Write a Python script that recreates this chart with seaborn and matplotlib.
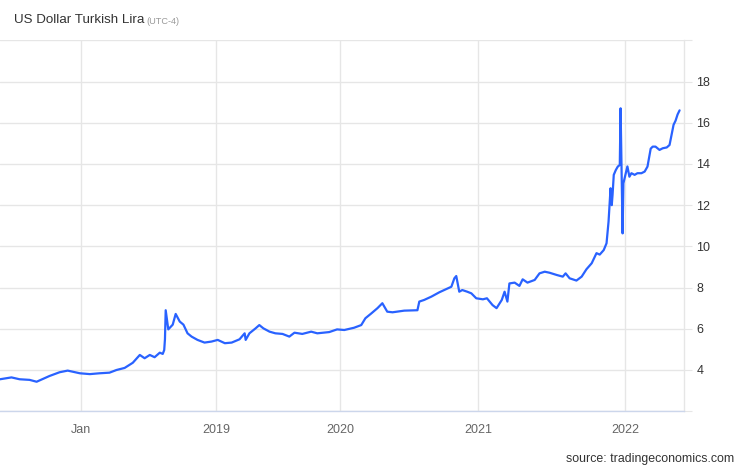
import numpy as np
import pandas as pd
import matplotlib
matplotlib.use("Agg")
import matplotlib.pyplot as plt
import matplotlib.dates as mdates
import seaborn as sns

# ---- data ----
dates = [
    "2017-05-27", "2017-06-27", "2017-07-19", "2017-08-15", "2017-09-03", "2017-10-08",
    "2017-11-04", "2017-11-26", "2017-12-29", "2018-01-25", "2018-02-20", "2018-03-19",
    "2018-04-07", "2018-04-29", "2018-05-21", "2018-06-09", "2018-06-22", "2018-07-06",
    "2018-07-19", "2018-08-02", "2018-08-10", "2018-08-14", "2018-08-16", "2018-08-18",
    "2018-08-25", "2018-09-06", "2018-09-14", "2018-09-25", "2018-10-05", "2018-10-16",
    "2018-10-27", "2018-11-12", "2018-12-01", "2018-12-20", "2019-01-06", "2019-01-27",
    "2019-02-16", "2019-03-11", "2019-03-26", "2019-03-29", "2019-04-09", "2019-04-27",
    "2019-05-08", "2019-05-20", "2019-06-07", "2019-06-24", "2019-07-15", "2019-08-04",
    "2019-08-19", "2019-09-11", "2019-10-07", "2019-10-25", "2019-11-29", "2019-12-22",
    "2020-01-11", "2020-02-06", "2020-02-25", "2020-03-07", "2020-03-23", "2020-04-08",
    "2020-04-21", "2020-05-04", "2020-05-18", "2020-06-18", "2020-07-23", "2020-07-28",
    "2020-08-10", "2020-08-29", "2020-09-19", "2020-10-07", "2020-10-21", "2020-10-29",
    "2020-11-03", "2020-11-11", "2020-11-19", "2020-12-02", "2020-12-13", "2020-12-26",
    "2021-01-12", "2021-01-22", "2021-02-05", "2021-02-15", "2021-02-28", "2021-03-07",
    "2021-03-14", "2021-03-19", "2021-04-01", "2021-04-13", "2021-04-21", "2021-05-03",
    "2021-05-21", "2021-06-02", "2021-06-15", "2021-06-27", "2021-07-15", "2021-07-30",
    "2021-08-06", "2021-08-16", "2021-09-02", "2021-09-15", "2021-09-27", "2021-10-10",
    "2021-10-22", "2021-10-30", "2021-11-09", "2021-11-16", "2021-11-21", "2021-11-26",
    "2021-11-29", "2021-12-01", "2021-12-04", "2021-12-09", "2021-12-14", "2021-12-19",
    "2021-12-21", "2021-12-26", "2021-12-28", "2022-01-02", "2022-01-07", "2022-01-12",
    "2022-01-17", "2022-01-25", "2022-02-01", "2022-02-11", "2022-02-19", "2022-02-26",
    "2022-03-06", "2022-03-11", "2022-03-18", "2022-03-28", "2022-04-05", "2022-04-15",
    "2022-04-22", "2022-04-27", "2022-05-02", "2022-05-07", "2022-05-12", "2022-05-17",
]
rates = [
    3.55, 3.64, 3.55, 3.52, 3.43, 3.71,
    3.89, 3.97, 3.84, 3.80, 3.84, 3.87,
    4.00, 4.10, 4.35, 4.73, 4.57, 4.73,
    4.62, 4.84, 4.78, 4.97, 5.50, 6.90,
    5.97, 6.20, 6.72, 6.35, 6.20, 5.78,
    5.62, 5.46, 5.33, 5.38, 5.46, 5.30,
    5.33, 5.49, 5.78, 5.46, 5.78, 6.02,
    6.18, 6.02, 5.86, 5.78, 5.75, 5.62,
    5.81, 5.75, 5.86, 5.78, 5.84, 5.97,
    5.94, 6.05, 6.18, 6.51, 6.75, 7.00,
    7.24, 6.83, 6.80, 6.88, 6.90, 7.32,
    7.40, 7.56, 7.77, 7.92, 8.04, 8.45,
    8.56, 7.80, 7.88, 7.80, 7.72, 7.48,
    7.43, 7.48, 7.15, 7.00, 7.40, 7.80,
    7.32, 8.20, 8.24, 8.08, 8.40, 8.24,
    8.37, 8.69, 8.77, 8.72, 8.61, 8.53,
    8.69, 8.45, 8.34, 8.53, 8.89, 9.18,
    9.67, 9.60, 9.82, 10.15, 11.20, 12.82,
    12.00, 12.50, 13.47, 13.70, 13.87, 13.95,
    16.70, 10.63, 13.06, 13.47, 13.88, 13.38,
    13.55, 13.47, 13.55, 13.55, 13.63, 13.87,
    14.74, 14.84, 14.84, 14.68, 14.76, 14.80,
    14.92, 15.40, 15.90, 16.10, 16.40, 16.60,
]
year_ticks = ["2018-01-01", "2019-01-01", "2020-01-01", "2021-01-01", "2022-01-01"]
year_labels = ["Jan", "2019", "2020", "2021", "2022"]
y_ticks = [2, 4, 6, 8, 10, 12, 14, 16, 18, 20]
y_labels = ["", "4", "6", "8", "10", "12", "14", "16", "18", ""]

df = pd.DataFrame({"date": pd.to_datetime(dates), "rate": rates})

sns.set_theme(style="white")
plt.rcParams["font.family"] = ["Liberation Sans", "DejaVu Sans"]

W, H = 746, 468
fig = plt.figure(figsize=(W / 100, H / 100), dpi=100)
fig.patch.set_facecolor("white")
ax = fig.add_axes([0, (H - 411.2) / H, 684 / W, (411.2 - 40.3) / H])

sns.lineplot(data=df, x="date", y="rate", ax=ax, color="#2962ff", linewidth=1.6)

# non-uniform time axis (as in the original, year spans differ in width)
anchor_d = mdates.date2num(pd.to_datetime(year_ticks))
anchor_p = np.array([81.0, 216.0, 340.5, 478.5, 625.0])
s0 = (anchor_p[1] - anchor_p[0]) / (anchor_d[1] - anchor_d[0])
s1 = (anchor_p[-1] - anchor_p[-2]) / (anchor_d[-1] - anchor_d[-2])


def fwd(x):
    x = np.asarray(x, dtype=float)
    y = np.interp(x, anchor_d, anchor_p)
    y = np.where(x < anchor_d[0], anchor_p[0] + (x - anchor_d[0]) * s0, y)
    y = np.where(x > anchor_d[-1], anchor_p[-1] + (x - anchor_d[-1]) * s1, y)
    return y


def inv(p):
    p = np.asarray(p, dtype=float)
    x = np.interp(p, anchor_p, anchor_d)
    x = np.where(p < anchor_p[0], anchor_d[0] + (p - anchor_p[0]) / s0, x)
    x = np.where(p > anchor_p[-1], anchor_d[-1] + (p - anchor_p[-1]) / s1, x)
    return x


ax.set_xscale("function", functions=(fwd, inv))
ax.set_xlim(float(inv(0.0)), float(inv(684.0)))
ax.set_xticks(anchor_d)
ax.set_xticklabels(year_labels)
ax.xaxis.set_minor_locator(matplotlib.ticker.NullLocator())

ax.set_ylim(2, 20)
ax.set_yticks(y_ticks)
ax.set_yticklabels(y_labels)
ax.yaxis.tick_right()

ax.set_xlabel("")
ax.set_ylabel("")
ax.grid(True, color="#e6e6e6", linewidth=1)
ax.set_axisbelow(True)

for s in ["top", "left"]:
    ax.spines[s].set_visible(False)
ax.spines["right"].set_color("#e6e6e6")
ax.spines["right"].set_linewidth(1)
ax.spines["bottom"].set_color("#ccd6eb")
ax.spines["bottom"].set_linewidth(1)

ax.tick_params(axis="y", which="major", right=True, left=False, length=5.8,
               width=0.8, color="#e6e6e6", labelcolor="#333333", labelsize=9, pad=3)
ax.tick_params(axis="x", which="major", bottom=True, length=0, labelcolor="#666666",
               labelsize=9, pad=9)

fig.text(14 / W, 1 - 20 / H, "US Dollar Turkish Lira", fontsize=9.6,
         color="#333333", va="center", ha="left")
fig.text(146 / W, 1 - 21 / H, "(UTC-4)", fontsize=6.6, color="#999999",
         va="center", ha="left")
fig.text(734 / W, 1 - 459 / H, "source: tradingeconomics.com", fontsize=8.9,
         color="#333333", va="center", ha="right")

fig.savefig("out.png", dpi=100, facecolor="white")
